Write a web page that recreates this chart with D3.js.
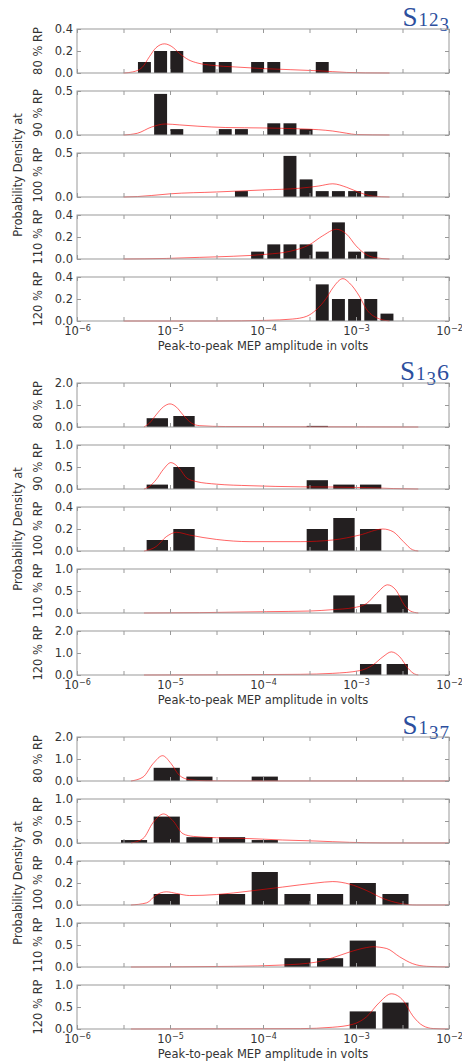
<!DOCTYPE html>
<html>
<head>
<meta charset="utf-8">
<script src="https://cdn.jsdelivr.net/npm/d3@7"></script>
<style>
  body { margin: 0; background: #fff; }
  svg { display: block; }
  text { font-family: "DejaVu Sans", sans-serif; fill: #333; }
</style>
</head>
<body>
<svg id="chart" width="462" height="1064"></svg>
<script>
/* global d3 */

// ---- data ----
var subjects = ['S123', 'S136', 'S137']
var levels = ['80 % RP', '90 % RP', '100 % RP', '110 % RP', '120 % RP']
var decadeExps = [-6, -5, -4, -3, -2]
var tickExps = [-6, -5.5, -5, -4.5, -4, -3.5, -3, -2.5, -2]

// histogram bin edges (log10 volts)
var edgesS123 = [-5.362, -5.188, -5.014, -4.840, -4.666, -4.493, -4.319, -4.145, -3.971,
                 -3.797, -3.623, -3.450, -3.276, -3.102, -2.928, -2.754, -2.580]
var edgesS136 = [-5.280, -4.993, -4.706, -4.419, -4.133, -3.846, -3.559, -3.273, -2.986, -2.699, -2.413]
var edgesS137 = [-5.562, -5.211, -4.859, -4.508, -4.157, -3.805, -3.454, -3.103, -2.751, -2.400]

// bar heights per stimulation level
var histS123 = [
    [0.1, 0.2, 0.2, 0, 0.1, 0.1, 0, 0.1, 0.1, 0, 0, 0.1, 0, 0, 0, 0],
    [0, 0.467, 0.067, 0, 0, 0.067, 0.067, 0, 0.133, 0.133, 0.067, 0, 0, 0, 0, 0],
    [0, 0, 0, 0, 0, 0, 0.067, 0, 0, 0.467, 0.2, 0.067, 0.067, 0.067, 0.067, 0],
    [0, 0, 0, 0, 0, 0, 0, 0.067, 0.133, 0.133, 0.133, 0.067, 0.333, 0.067, 0.067, 0],
    [0, 0, 0, 0, 0, 0, 0, 0, 0, 0, 0, 0.333, 0.2, 0.2, 0.2, 0.067]
]
var histS136 = [
    [0.4, 0.5, 0, 0, 0, 0, 0.05, 0, 0, 0],
    [0.1, 0.5, 0, 0, 0, 0, 0.2, 0.1, 0.1, 0],
    [0.1, 0.2, 0, 0, 0, 0, 0.2, 0.3, 0.2, 0],
    [0, 0, 0, 0, 0, 0, 0, 0.4, 0.2, 0.4],
    [0, 0, 0, 0, 0, 0, 0, 0, 0.5, 0.5]
]
var histS137 = [
    [0, 0.6, 0.2, 0, 0.2, 0, 0, 0, 0],
    [0.067, 0.6, 0.133, 0.133, 0.067, 0, 0, 0, 0],
    [0, 0.1, 0, 0.1, 0.3, 0.1, 0.1, 0.2, 0.1],
    [0, 0, 0, 0, 0, 0.2, 0.2, 0.6, 0],
    [0, 0, 0, 0, 0, 0, 0, 0.4, 0.6]
]

// density curves, [log10 volts, density]
var kdeS123 = [
    [[-5.5, 0], [-5.4, 0.01], [-5.3, 0.05], [-5.22, 0.15], [-5.15, 0.23], [-5.06, 0.265], [-4.98, 0.24],
     [-4.9, 0.18], [-4.8, 0.12], [-4.7, 0.09], [-4.55, 0.07], [-4.3, 0.055], [-4.0, 0.04], [-3.7, 0.03],
     [-3.4, 0.02], [-3.1, 0.005], [-2.9, 0.001], [-2.64, 0]],
    [[-5.5, 0], [-5.35, 0.02], [-5.2, 0.09], [-5.05, 0.125], [-4.9, 0.115], [-4.7, 0.1], [-4.4, 0.085],
     [-4.0, 0.08], [-3.6, 0.07], [-3.4, 0.06], [-3.25, 0.045], [-3.1, 0.02], [-3.0, 0.005], [-2.64, 0]],
    [[-5.5, 0], [-5.35, 0.005], [-5.2, 0.017], [-5.0, 0.036], [-4.5, 0.057], [-4.0, 0.08], [-3.6, 0.1],
     [-3.4, 0.125], [-3.25, 0.15], [-3.1, 0.11], [-2.96, 0.05], [-2.82, 0.01], [-2.64, 0]],
    [[-5.5, 0], [-5.04, 0.005], [-4.68, 0.015], [-4.32, 0.025], [-3.96, 0.043], [-3.71, 0.07], [-3.5, 0.13],
     [-3.36, 0.21], [-3.21, 0.27], [-3.1, 0.225], [-3.0, 0.12], [-2.89, 0.04], [-2.78, 0.01], [-2.64, 0]],
    [[-5.5, 0], [-4.5, 0], [-3.96, 0.006], [-3.68, 0.018], [-3.53, 0.043], [-3.43, 0.1], [-3.32, 0.206],
     [-3.25, 0.3], [-3.14, 0.385], [-3.07, 0.345], [-2.96, 0.22], [-2.89, 0.11], [-2.78, 0.03], [-2.64, 0]]
]
var kdeS136 = [
    [[-5.28, 0], [-5.22, 0.18], [-5.15, 0.55], [-5.07, 0.92], [-5.0, 1.05], [-4.93, 0.9], [-4.86, 0.55],
     [-4.77, 0.18], [-4.68, 0.06], [-4.4, 0.02], [-3.6, 0.01], [-2.9, 0.005], [-2.33, 0]],
    [[-5.28, 0], [-5.22, 0.06], [-5.15, 0.21], [-5.07, 0.45], [-4.99, 0.6], [-4.9, 0.47], [-4.82, 0.25],
     [-4.72, 0.17], [-4.5, 0.11], [-4.14, 0.075], [-3.6, 0.05], [-3.25, 0.045], [-2.89, 0.03],
     [-2.6, 0.01], [-2.33, 0]],
    [[-5.28, 0], [-5.15, 0.04], [-5.04, 0.13], [-4.93, 0.17], [-4.79, 0.145], [-4.5, 0.105], [-4.14, 0.085],
     [-3.6, 0.085], [-3.25, 0.1], [-2.96, 0.145], [-2.71, 0.2], [-2.6, 0.175], [-2.49, 0.085],
     [-2.39, 0.01], [-2.33, 0]],
    [[-5.28, 0], [-4.68, 0.008], [-3.96, 0.03], [-3.5, 0.045], [-3.25, 0.076], [-3.03, 0.12], [-2.89, 0.21],
     [-2.78, 0.44], [-2.66, 0.64], [-2.57, 0.52], [-2.48, 0.18], [-2.41, 0.04], [-2.33, 0]],
    [[-5.28, 0], [-3.6, 0.03], [-3.25, 0.075], [-2.96, 0.2], [-2.82, 0.45], [-2.71, 0.83], [-2.62, 1.05],
     [-2.53, 0.83], [-2.44, 0.3], [-2.37, 0.045], [-2.33, 0]]
]
var kdeS137 = [
    [[-5.42, 0], [-5.29, 0.18], [-5.18, 0.8], [-5.08, 1.15], [-4.99, 0.8], [-4.9, 0.26], [-4.79, 0.06],
     [-4.61, 0.01], [-3.96, 0.003], [-2.0, 0]],
    [[-5.42, 0], [-5.29, 0.1], [-5.18, 0.47], [-5.07, 0.66], [-4.97, 0.51], [-4.86, 0.21], [-4.75, 0.15],
     [-4.5, 0.12], [-4.14, 0.1], [-3.79, 0.068], [-3.43, 0.045], [-3.07, 0.015], [-2.71, 0.002], [-2.0, 0]],
    [[-5.42, 0], [-5.25, 0.02], [-5.15, 0.09], [-5.04, 0.12], [-4.93, 0.105], [-4.79, 0.086], [-4.5, 0.095],
     [-4.14, 0.127], [-3.79, 0.163], [-3.43, 0.2], [-3.25, 0.213], [-3.07, 0.19], [-2.89, 0.133],
     [-2.71, 0.06], [-2.53, 0.015], [-2.35, 0], [-2.0, 0]],
    [[-5.42, 0], [-4.32, 0.015], [-3.79, 0.045], [-3.43, 0.11], [-3.25, 0.21], [-3.07, 0.34], [-2.89, 0.44],
     [-2.82, 0.46], [-2.67, 0.42], [-2.53, 0.23], [-2.39, 0.075], [-2.24, 0.015], [-2.0, 0]],
    [[-5.42, 0], [-3.6, 0.008], [-3.25, 0.04], [-3.03, 0.11], [-2.89, 0.27], [-2.75, 0.6], [-2.62, 0.8],
     [-2.49, 0.64], [-2.39, 0.3], [-2.28, 0.075], [-2.17, 0.01], [-2.0, 0]]
]

// y axis limits and ticks per panel
var yMaxS123 = [0.4, 0.5, 0.5, 0.4, 0.4]
var yMaxS136 = [2, 1, 0.4, 1, 2]
var yMaxS137 = [2, 1, 0.4, 1, 1]
var yTicksS123 = [[0, 0.2, 0.4], [0, 0.5], [0, 0.5], [0, 0.2, 0.4], [0, 0.2, 0.4]]
var yTicksS136 = [[0, 1, 2], [0, 0.5, 1], [0, 0.2, 0.4], [0, 0.5, 1], [0, 1, 2]]
var yTicksS137 = [[0, 1, 2], [0, 0.5, 1], [0, 0.2, 0.4], [0, 0.5, 1], [0, 0.5, 1]]

var groups = [
    { name: subjects[0], edges: edgesS123, hist: histS123, kde: kdeS123, yMax: yMaxS123, yTicks: yTicksS123 },
    { name: subjects[1], edges: edgesS136, hist: histS136, kde: kdeS136, yMax: yMaxS136, yTicks: yTicksS136 },
    { name: subjects[2], edges: edgesS137, hist: histS137, kde: kdeS137, yMax: yMaxS137, yTicks: yTicksS137 }
]

// ---- layout ----
var left = 77, right = 449
var firstTop = 29, groupStep = 354, panelStep = 62, panelH = 44
var spine = '#999'

var svg = d3.select('#chart')
var x = d3.scaleLog().domain([1e-6, 1e-2]).range([left, right])
var fmt = d3.format('.1f')

function cleanAxis(g) {
    g.attr('font-size', null).attr('font-family', null)
    g.select('.domain').remove()
    g.selectAll('.tick line').attr('stroke', spine)
}

groups.forEach(function (grp, gi) {
    var top0 = firstTop + gi * groupStep

    // subject title, old-style look for the digits
    var title = svg.append('text')
        .attr('x', right).attr('y', top0 - 3)
        .attr('text-anchor', 'end')
        .style('font-family', '"Liberation Serif", "DejaVu Serif", serif')
        .style('fill', '#2c4f9e')
    title.append('tspan').attr('font-size', 27).text(grp.name[0])
    grp.name.slice(1).split('').forEach(function (ch) {
        var down = '3457'.indexOf(ch) >= 0
        var tall = '68'.indexOf(ch) >= 0
        title.append('tspan')
            .attr('font-size', tall ? 24 : 19)
            .attr('dx', 1)
            .attr('baseline-shift', down ? -5 : 0)
            .text(ch)
    })

    // shared y label
    svg.append('text')
        .attr('transform', 'translate(22,' + (top0 + 2 * panelStep + panelH / 2) + ') rotate(-90)')
        .attr('text-anchor', 'middle')
        .attr('font-size', 11.5)
        .text('Probability Density at')

    levels.forEach(function (lvl, k) {
        var pt = top0 + k * panelStep
        var y = d3.scaleLinear().domain([0, grp.yMax[k]]).range([pt + panelH, pt])
        var panel = svg.append('g')

        // bars (rwidth 0.8)
        var bins = grp.hist[k].map(function (h, i) {
            return { x0: grp.edges[i], x1: grp.edges[i + 1], h: h }
        }).filter(function (b) { return b.h > 0 })

        panel.selectAll('rect.bar')
            .data(bins)
            .enter()
            .append('rect')
            .attr('class', 'bar')
            .attr('x', function (d) {
                var a = x(Math.pow(10, d.x0)), b = x(Math.pow(10, d.x1))
                return a + (b - a) * 0.1
            })
            .attr('width', function (d) {
                return (x(Math.pow(10, d.x1)) - x(Math.pow(10, d.x0))) * 0.8
            })
            .attr('y', function (d) { return y(d.h) })
            .attr('height', function (d) { return y(0) - y(d.h) })
            .attr('fill', '#231f20')

        // density curve
        var line = d3.line()
            .x(function (d) { return x(Math.pow(10, d[0])) })
            .y(function (d) { return y(d[1]) })
            .curve(d3.curveMonotoneX)
        panel.append('path')
            .datum(grp.kde[k])
            .attr('d', line)
            .attr('fill', 'none')
            .attr('stroke', '#ff0000')
            .attr('stroke-opacity', 0.6)
            .attr('stroke-width', 1)

        // frame
        panel.append('rect')
            .attr('x', left).attr('y', pt)
            .attr('width', right - left).attr('height', panelH)
            .attr('fill', 'none').attr('stroke', spine)

        var tv = tickExps.map(function (e) { return Math.pow(10, e) })
        panel.append('g').attr('transform', 'translate(0,' + (pt + panelH) + ')')
            .call(d3.axisBottom(x).tickValues(tv).tickSize(-4).tickFormat(''))
            .call(cleanAxis)
        panel.append('g').attr('transform', 'translate(0,' + pt + ')')
            .call(d3.axisTop(x).tickValues(tv).tickSize(-4).tickFormat(''))
            .call(cleanAxis)
        panel.append('g').attr('transform', 'translate(' + left + ',0)')
            .call(d3.axisLeft(y).tickValues(grp.yTicks[k]).tickSize(-4).tickPadding(4).tickFormat(fmt))
            .call(cleanAxis)
            .selectAll('text').attr('font-size', 11.5)
        panel.append('g').attr('transform', 'translate(' + right + ',0)')
            .call(d3.axisRight(y).tickValues(grp.yTicks[k]).tickSize(-4).tickFormat(''))
            .call(cleanAxis)

        // level label
        svg.append('text')
            .attr('transform', 'translate(42,' + (pt + panelH / 2) + ') rotate(-90)')
            .attr('text-anchor', 'middle')
            .attr('font-size', 11.5)
            .text(lvl)

        // x tick labels on the bottom panel
        if (k === levels.length - 1) {
            var xl = panel.append('g').attr('transform', 'translate(0,' + (pt + panelH) + ')')
                .call(d3.axisBottom(x)
                    .tickValues(decadeExps.map(function (e) { return Math.pow(10, e) }))
                    .tickSize(0).tickPadding(6).tickFormat(''))
                .call(cleanAxis)
            xl.selectAll('.tick text').each(function (d) {
                var t = d3.select(this).attr('font-size', 11.5)
                t.append('tspan').text('10')
                t.append('tspan')
                    .attr('font-size', 8)
                    .attr('dy', '-0.55em')
                    .text('\u2212' + Math.abs(Math.round(Math.log10(d))))
            })
            svg.append('text')
                .attr('x', (left + right) / 2)
                .attr('y', pt + panelH + 29)
                .attr('text-anchor', 'middle')
                .attr('font-size', 11.5)
                .text('Peak-to-peak MEP amplitude in volts')
        }
    })
})
</script>
</body>
</html>
